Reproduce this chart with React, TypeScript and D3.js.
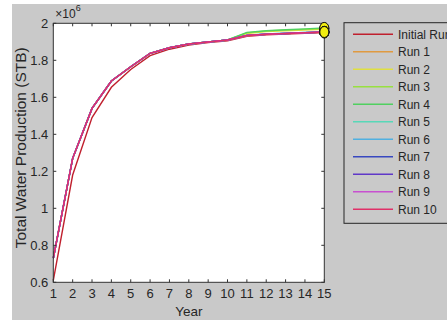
import React, { useEffect, useRef } from 'react';
import * as d3 from 'd3';

const years = [1, 2, 3, 4, 5, 6, 7, 8, 9, 10, 11, 12, 13, 14, 15];

// values in millions of STB
const initialRun = [0.61, 1.18, 1.49, 1.654, 1.75, 1.825, 1.86, 1.882, 1.896, 1.906, 1.93, 1.938, 1.942, 1.946, 1.95];
const run1 = [0.73, 1.27, 1.54, 1.688, 1.765, 1.838, 1.868, 1.888, 1.899, 1.91, 1.932, 1.94, 1.944, 1.948, 1.952];
const run2 = [0.73, 1.27, 1.54, 1.688, 1.765, 1.838, 1.868, 1.888, 1.899, 1.91, 1.945, 1.955, 1.96, 1.964, 1.968];
const run3 = [0.73, 1.27, 1.54, 1.688, 1.765, 1.838, 1.868, 1.888, 1.899, 1.91, 1.948, 1.958, 1.963, 1.967, 1.972];
const run4 = [0.73, 1.27, 1.54, 1.688, 1.765, 1.838, 1.868, 1.888, 1.899, 1.91, 1.951, 1.96, 1.965, 1.97, 1.975];
const run5 = [0.73, 1.27, 1.54, 1.688, 1.765, 1.838, 1.868, 1.888, 1.899, 1.91, 1.936, 1.942, 1.946, 1.95, 1.954];
const run6 = [0.73, 1.27, 1.54, 1.688, 1.765, 1.838, 1.868, 1.888, 1.899, 1.91, 1.935, 1.942, 1.946, 1.95, 1.953];
const run7 = [0.73, 1.27, 1.54, 1.688, 1.765, 1.838, 1.868, 1.888, 1.899, 1.91, 1.935, 1.941, 1.945, 1.949, 1.953];
const run8 = [0.73, 1.27, 1.54, 1.688, 1.765, 1.838, 1.868, 1.888, 1.899, 1.91, 1.934, 1.941, 1.945, 1.949, 1.953];
const run9 = [0.73, 1.27, 1.54, 1.688, 1.765, 1.838, 1.868, 1.888, 1.899, 1.91, 1.934, 1.941, 1.945, 1.949, 1.953];
const run10 = [0.73, 1.27, 1.54, 1.688, 1.765, 1.838, 1.868, 1.888, 1.899, 1.91, 1.934, 1.941, 1.945, 1.949, 1.953];

const seriesNames = ['Initial Run', 'Run 1', 'Run 2', 'Run 3', 'Run 4', 'Run 5', 'Run 6', 'Run 7', 'Run 8', 'Run 9', 'Run 10'];
const seriesValues = [initialRun, run1, run2, run3, run4, run5, run6, run7, run8, run9, run10];
const seriesColors = ['#c0202e', '#e09a40', '#e0e040', '#98e040', '#50d060', '#58d8b8', '#50b0e0', '#3848c0', '#6038c8', '#c850d0', '#e03068'];

const yTicks = [0.6, 0.8, 1, 1.2, 1.4, 1.6, 1.8, 2];

const App = () => {
  const ref = useRef<SVGSVGElement>(null);

  useEffect(() => {
    const svg = d3.select(ref.current);
    svg.selectAll('*').remove();

    const width = 447;
    const height = 320;
    const margin = { top: 23.3, right: 122.7, bottom: 37.7, left: 53.3 };
    const w = width - margin.left - margin.right;
    const h = height - margin.top - margin.bottom;
    const font = 'Liberation Sans, Arial, sans-serif';
    const textColor = '#262626';

    svg.append('rect').attr('width', width).attr('height', height).attr('fill', '#ffffff');
    svg.append('rect').attr('x', 12).attr('y', 4).attr('width', width - 12).attr('height', height - 4).attr('fill', '#c9c9c9');

    const g = svg.append('g').attr('transform', `translate(${margin.left},${margin.top})`);

    const x = d3.scaleLinear().domain([1, 15]).range([0, w]);
    const y = d3.scaleLinear().domain([0.6, 2]).range([h, 0]);

    g.append('rect').attr('width', w).attr('height', h).attr('fill', '#ffffff');

    const line = d3.line<number>()
      .x((d, i) => x(years[i]))
      .y(d => y(d));

    seriesValues.forEach((vals, i) => {
      g.append('path')
        .attr('d', line(vals))
        .attr('fill', 'none')
        .attr('stroke', seriesColors[i])
        .attr('stroke-width', 1.4);
    });

    // axes with inward ticks on all four sides
    const tickLen = 3;
    const axisColor = '#333333';
    years.forEach(yr => {
      g.append('line').attr('x1', x(yr)).attr('x2', x(yr)).attr('y1', h).attr('y2', h - tickLen).attr('stroke', axisColor);
      g.append('line').attr('x1', x(yr)).attr('x2', x(yr)).attr('y1', 0).attr('y2', tickLen).attr('stroke', axisColor);
      g.append('text')
        .attr('x', x(yr))
        .attr('y', h + 16)
        .attr('text-anchor', 'middle')
        .attr('font-family', font)
        .attr('font-size', 13)
        .attr('fill', textColor)
        .text(yr);
    });
    yTicks.forEach(t => {
      g.append('line').attr('x1', 0).attr('x2', tickLen).attr('y1', y(t)).attr('y2', y(t)).attr('stroke', axisColor);
      g.append('line').attr('x1', w).attr('x2', w - tickLen).attr('y1', y(t)).attr('y2', y(t)).attr('stroke', axisColor);
      g.append('text')
        .attr('x', -5)
        .attr('y', y(t))
        .attr('dy', '0.36em')
        .attr('text-anchor', 'end')
        .attr('font-family', font)
        .attr('font-size', 13)
        .attr('fill', textColor)
        .text(d3.format('~g')(t));
    });
    g.append('rect')
      .attr('width', w)
      .attr('height', h)
      .attr('fill', 'none')
      .attr('stroke', axisColor)
      .attr('stroke-width', 1);

    // end markers
    seriesValues.forEach(vals => {
      g.append('ellipse')
        .attr('cx', x(15))
        .attr('cy', y(vals[vals.length - 1]))
        .attr('rx', 4.5)
        .attr('ry', 5.5)
        .attr('fill', '#f2ee10')
        .attr('stroke', '#111111')
        .attr('stroke-width', 1);
    });

    // exponent label
    const exp = g.append('text')
      .attr('x', 2)
      .attr('y', -5)
      .attr('font-family', font)
      .attr('font-size', 12)
      .attr('fill', textColor);
    exp.append('tspan').text('×10');
    exp.append('tspan').attr('dy', -7).attr('font-size', 9).text('6');

    // axis titles
    g.append('text')
      .attr('x', w / 2)
      .attr('y', h + 34)
      .attr('text-anchor', 'middle')
      .attr('font-family', font)
      .attr('font-size', 13.5)
      .attr('fill', textColor)
      .text('Year');

    g.append('text')
      .attr('transform', `translate(${-27},${h / 2 - 5}) rotate(-90)`)
      .attr('text-anchor', 'middle')
      .attr('font-family', font)
      .attr('font-size', 15.5)
      .attr('fill', textColor)
      .text('Total Water Production (STB)');

    // legend
    const lx = 344;
    const ly = 22.7;
    svg.append('rect')
      .attr('x', lx)
      .attr('y', ly)
      .attr('width', 130)
      .attr('height', 200.6)
      .attr('fill', '#c9c9c9')
      .attr('stroke', '#262626')
      .attr('stroke-width', 1);

    const item = svg.append('g')
      .selectAll('g')
      .data(seriesNames)
      .enter().append('g')
      .attr('transform', (d, i) => `translate(${lx},${ly + 11.6 + i * 17.5})`);

    item.append('line')
      .attr('x1', 9)
      .attr('x2', 49)
      .attr('stroke', (d, i) => seriesColors[i])
      .attr('stroke-width', 1.4);

    item.append('text')
      .attr('x', 54)
      .attr('dy', '0.36em')
      .attr('font-family', font)
      .attr('font-size', 12)
      .attr('fill', textColor)
      .text(d => d);
  }, []);

  return <svg ref={ref} width={447} height={320} style={{ position: 'absolute', left: 0, top: 0 }} />;
};

export default App;
